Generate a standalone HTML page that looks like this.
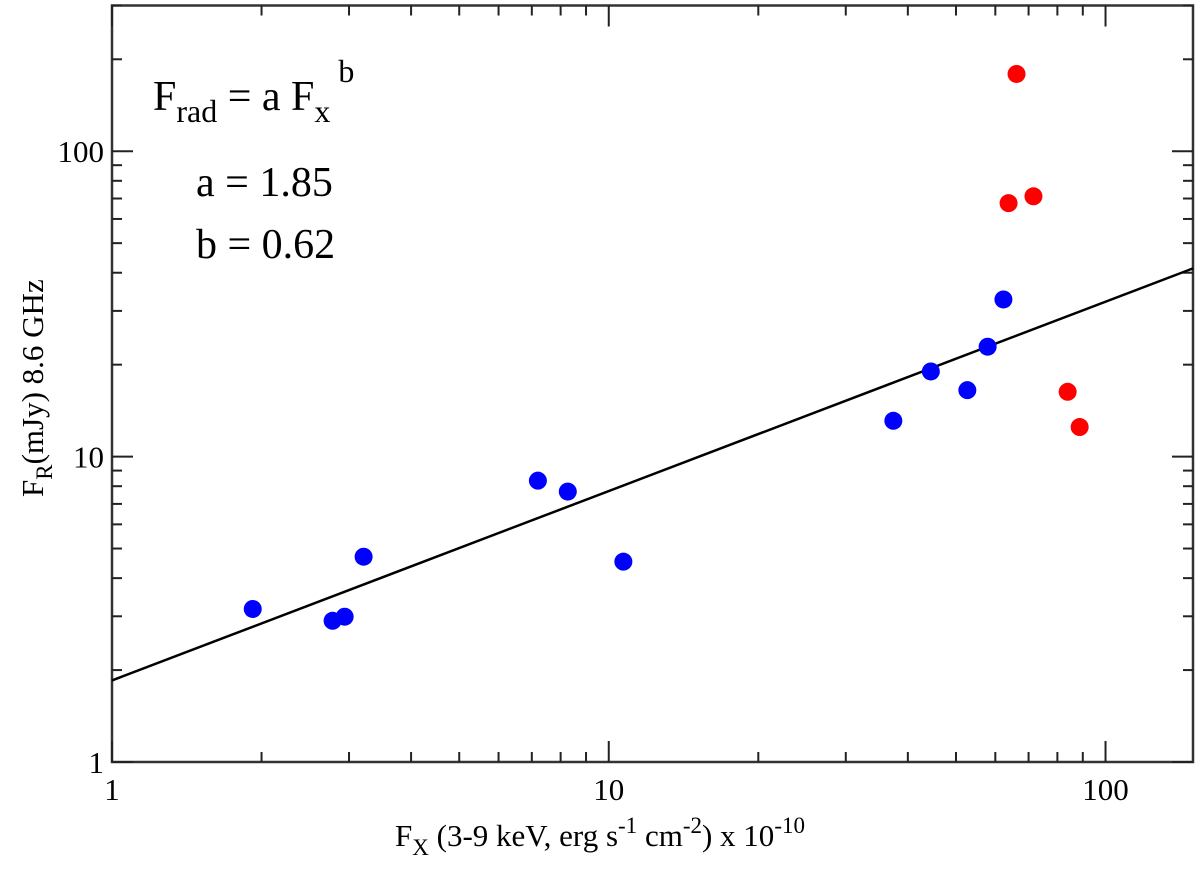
<!DOCTYPE html>
<html><head><meta charset="utf-8"><style>
html,body{margin:0;padding:0;background:#fff;}
svg text{font-family:"Liberation Serif","Times New Roman",Times,"DejaVu Serif","Noto Serif CJK SC",serif !important;}
</style></head><body>
<svg id="chart" width="1200" height="867" viewBox="0 0 1200 867" xmlns="http://www.w3.org/2000/svg">
<g id="grid"></g>
<g id="marks"></g>
<text x="153" y="110" font-size="42">F<tspan font-size="32" dy="12">rad</tspan><tspan dy="-12"> = a F</tspan><tspan font-size="32" dy="12">x</tspan><tspan font-size="32" dy="-40"> b</tspan></text>
<text x="196" y="196" font-size="42">a = 1.85</text>
<text x="196" y="258" font-size="42">b = 0.62</text>
<text x="395" y="846" font-size="31">F<tspan font-size="23" dy="9">X</tspan><tspan dy="-9"> (3-9 keV, erg s</tspan><tspan font-size="23" dy="-13">-1</tspan><tspan dy="13"> cm</tspan><tspan font-size="23" dy="-13">-2</tspan><tspan dy="13">) x 10</tspan><tspan font-size="23" dy="-13">-10</tspan></text>
<text transform="translate(43,497) rotate(-90)" font-size="31">F<tspan font-size="23" dy="9">R</tspan><tspan dy="-9">(mJy) 8.6 GHz</tspan></text>
</svg>
<script>
const blueX=[1.92,2.78,2.94,3.21,7.20,8.27,10.7,37.4,44.5,52.7,57.9,62.3];
const blueY=[3.17,2.90,2.99,4.70,8.34,7.68,4.53,13.1,19.0,16.5,22.9,32.7];
const redX=[66.2,63.8,71.6,83.9,88.7];
const redY=[179,67.6,71.2,16.3,12.5];
const fitA=1.85, fitB=0.62;
const xTickLabels=["1","10","100"];
const yTickLabels=["1","10","100"];
const L=112,R=1193,T=5.5,B=762;
const xMin=1,xMax=150,yMin=1,yMax=300;
const NS="http://www.w3.org/2000/svg";
function sx(v){return L+(Math.log10(v)-Math.log10(xMin))/(Math.log10(xMax)-Math.log10(xMin))*(R-L);}
function sy(v){return B-(Math.log10(v)-Math.log10(yMin))/(Math.log10(yMax)-Math.log10(yMin))*(B-T);}
function mk(t,a,p){const e=document.createElementNS(NS,t);for(const k in a)e.setAttribute(k,a[k]);p.appendChild(e);return e;}
const g=document.getElementById('grid'),m=document.getElementById('marks');
const frame=mk('rect',{x:L,y:T,width:R-L,height:B-T,fill:'none',stroke:'#333','stroke-width':2.5},g);


for(let d=0;d<3;d++){for(let k=1;k<10;k++){const v=Math.pow(10,d)*k;if(v>xMax)break;const x=sx(v);const len=k===1?21:10;
mk('line',{x1:x,y1:B,x2:x,y2:B-len,stroke:'#222','stroke-width':2},g);
mk('line',{x1:x,y1:T,x2:x,y2:T+len,stroke:'#222','stroke-width':2},g);}}
xTickLabels.forEach(s=>{const t=mk('text',{x:sx(+s),y:B+38,'font-size':31,'text-anchor':'middle'},g);t.textContent=s;

});
for(let d=0;d<3;d++){for(let k=1;k<10;k++){const v=Math.pow(10,d)*k;if(v>yMax)break;const y=sy(v);const len=k===1?21:10;
mk('line',{x1:L,y1:y,x2:L+len,y2:y,stroke:'#222','stroke-width':2},g);
mk('line',{x1:R,y1:y,x2:R-len,y2:y,stroke:'#222','stroke-width':2},g);}}
yTickLabels.forEach(s=>{const t=mk('text',{x:L-8,y:sy(+s)+11,'font-size':31,'text-anchor':'end'},g);t.textContent=s;

});
const fl=mk('line',{x1:sx(xMin),y1:sy(fitA*Math.pow(xMin,fitB)),x2:sx(xMax),y2:sy(fitA*Math.pow(xMax,fitB)),stroke:'#000','stroke-width':2.5},m);


blueX.forEach((v,i)=>{const c=mk('circle',{cx:sx(v),cy:sy(blueY[i]),r:9,fill:'#0000ff'},m);

});
redX.forEach((v,i)=>{const c=mk('circle',{cx:sx(v),cy:sy(redY[i]),r:9,fill:'#ff0000'},m);

});
</script>
</body></html>
